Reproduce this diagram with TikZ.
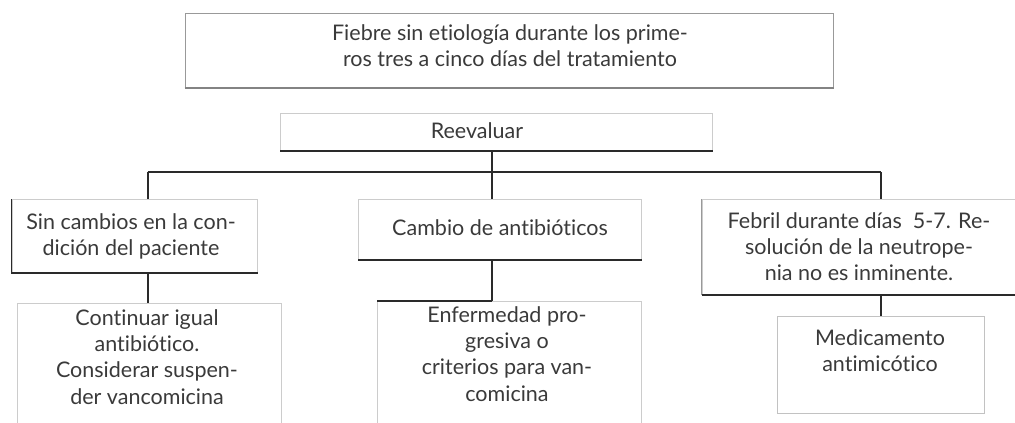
\documentclass[tikz,border=0pt]{standalone}
\usepackage{fontspec}
\setmainfont[Ligatures=NoCommon]{Lato}
\definecolor{txtc}{HTML}{3A3A3A}
\definecolor{darkl}{HTML}{2A2A2A}
\definecolor{lightl}{HTML}{CCCCCC}
\definecolor{midl}{HTML}{999999}
\tikzset{
  box/.style={draw=lightl, line width=1pt, rectangle, inner sep=0pt, anchor=north west},
  txt/.style={text=txtc, align=center, inner sep=0pt, font=\fontsize{21.5}{26.3}\selectfont,
    execute at begin node=\strut, execute at end node=\strut},
  txtone/.style={text=txtc, inner sep=0pt, anchor=base, font=\fontsize{21.5}{26.3}\selectfont},
  conn/.style={draw=darkl, line width=2pt},
  darkedge/.style={draw=darkl, line width=1.2pt},
}
\begin{document}
\begin{tikzpicture}[x=1pt,y=-1pt]
\useasboundingbox (0,0) rectangle (1015,423);
\clip (0,0) rectangle (1015,423);
% boxes
\node[box, draw=midl, minimum width=648pt, minimum height=74.5pt] (b0) at (184.5,12.5) {};
\node[box, minimum width=432pt, minimum height=37pt] (br) at (280,113) {};
\node[box, minimum width=245.5pt, minimum height=73pt] (b1) at (11.5,199) {};
\node[box, minimum width=283pt, minimum height=60pt] (b2) at (358,199) {};
\node[box, minimum width=313pt, minimum height=95pt] (b3) at (701.5,199) {};
\node[box, minimum width=264pt, minimum height=140pt] (b4) at (16.5,303) {};
\node[box, minimum width=264pt, minimum height=140pt] (b5) at (377,301) {};
\node[box, draw=lightl!80!midl, minimum width=207pt, minimum height=97pt] (b6) at (777,315.5) {};
% dark edges
\draw[darkedge, draw=midl!80!darkl] (b0.south west) -- (b0.south east);
\draw[darkedge] (br.south west) -- (br.south east);
\draw[darkedge] (b1.north west) -- (b1.south west) -- (b1.south east);
\draw[darkedge] (b2.south west) -- (b2.south east);
\draw[darkedge] (b3.south west) -- (b3.south east);
\draw[line width=1pt, draw=midl] (b3.north west) -- (b3.south west);
\coordinate (j) at (491.5,172);
\coordinate (jl) at (147.5,172);
\coordinate (jr) at (881,172);
\draw[darkedge] (b5.north west) -- (b5.north west -| j);
% connectors
\draw[conn] (br.south -| j) -- (j);
\draw[conn] (jl) -- (jr);
\draw[conn] (jl) -- (b1.north -| jl);
\draw[conn] (j) -- (b2.north -| j);
\draw[conn] (jr) -- (b3.north -| jr);
\draw[conn] (b1.south -| jl) -- (b4.north -| jl);
\draw[conn] (b2.south -| j) -- (b5.north -| j);
\draw[conn] (b3.south -| jr) -- (b6.north -| jr);
% texts
\node[txt] (t0) at (510,49.6) {Fiebre sin etiología durante los prime-\\ros tres a cinco días del tratamiento};
\node[txtone] (tr) at (477,138) {Reevaluar};
\node[txt] (t1) at (131,238.3) {Sin cambios en la con-\\dición del paciente};
\node[txtone] (t2) at (500,235) {Cambio de antibióticos};
\node[txt] (t3) at (859,250.6) {Febril durante días~ 5-7. Re-\\solución de la neutrope-\\nia no es inminente.};
\node[txt] (t4) at (147,360.6) {Continuar igual\\antibiótico.\\Considerar suspen-\\der vancomicina};
\node[txt] (t5) at (507,357.6) {Enfermedad pro-\\gresiva o\\criterios para van-\\comicina};
\node[txt] (t6) at (880,354.5) {Medicamento\\antimicótico};
\end{tikzpicture}
\end{document}
